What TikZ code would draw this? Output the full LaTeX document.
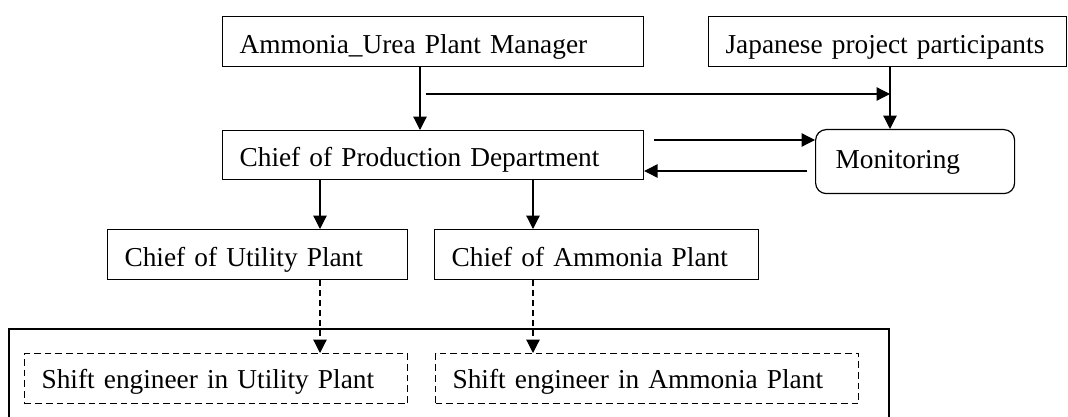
\documentclass[tikz,border=0pt]{standalone}
\usepackage{fontspec}
\setmainfont{Liberation Serif}
\usetikzlibrary{arrows.meta}
\begin{document}
\begin{tikzpicture}[x=0.75pt,y=-0.75pt,
  box/.style={draw, line width=0.9pt, anchor=north west, inner xsep=12.75pt, inner ysep=0pt,
    align=left, text depth=10.125pt, text height=27.375pt, font=\fontsize{20.5}{24}\selectfont},
  dbox/.style={box, dash pattern=on 5pt off 3pt, text depth=11.25pt, text height=26.25pt},
  mbox/.style={box, rounded corners=8pt, inner xsep=15pt, text height=29.25pt, text depth=18.75pt},
  arr/.style={line width=0.9pt, -{Triangle[length=10pt,width=10pt]}},
  darr/.style={arr, dash pattern=on 4.5pt off 3pt}]
\clip (0,0) rectangle (1068,417);
\node[box, text width=290.25pt] (mgr) at (222,16) {Ammonia\_Urea Plant Manager};
\node[box, text width=243pt] (jpn) at (708,16) {Japanese project participants};
\node[box, text width=290.25pt, text height=26.625pt] (prod) at (222,130) {Chief of Production Department};
\node[mbox, text width=119.25pt] (mon) at (815,129) {Monitoring};
\node[box, text width=199.5pt] (util) at (107,229) {Chief of Utility Plant};
\node[box, text width=217.5pt] (amm) at (434,229) {Chief of Ammonia Plant};
\draw[line width=0.9pt] (9,329) rectangle (889,425);
\node[dbox, text width=261.75pt] (su) at (24,353) {Shift engineer in Utility Plant};
\node[dbox, text width=291.75pt] (sa) at (435,353) {Shift engineer in Ammonia Plant};
\coordinate (xa) at (420,0);
\coordinate (xj) at (890,0);
\coordinate (xu) at (320,0);
\coordinate (xm) at (533,0);
\coordinate (hs) at (426,94);
\coordinate (he) at (890,94);
\coordinate (p1) at (654,140);
\coordinate (m1) at (807,171);
\draw[arr] (mgr.south -| xa) -- (prod.north -| xa);
\draw[arr] (hs) -- (he);
\draw[arr] (jpn.south -| xj) -- (mon.north -| xj);
\draw[arr] (p1) -- (p1 -| mon.west);
\draw[arr] (m1) -- (m1 -| prod.east);
\draw[arr] (prod.south -| xu) -- (util.north -| xu);
\draw[arr] (prod.south -| xm) -- (amm.north -| xm);
\draw[darr] (util.south -| xu) -- (su.north -| xu);
\draw[darr] (amm.south -| xm) -- (sa.north -| xm);
\end{tikzpicture}
\end{document}
